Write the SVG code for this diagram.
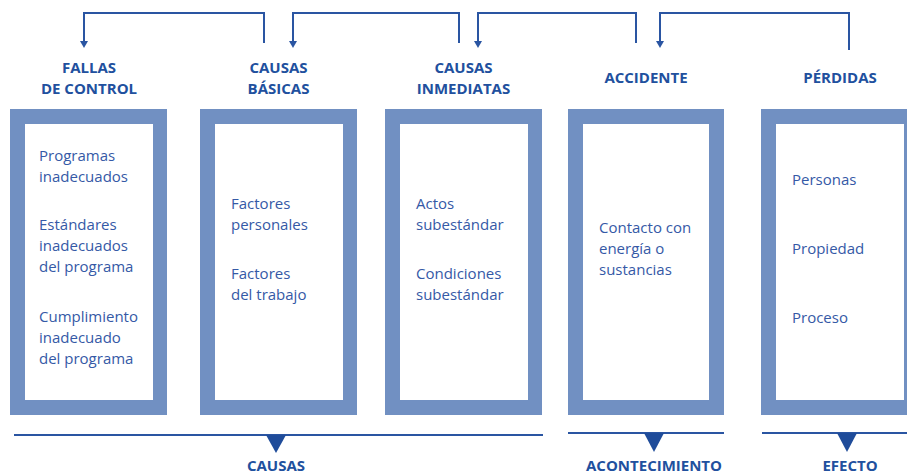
<svg xmlns="http://www.w3.org/2000/svg" width="907" height="475" viewBox="0 0 907 475">
<style>
.frame{fill:#7190c2}
.inner{fill:#ffffff}
.title{font-family:"Open Sans","Liberation Sans",sans-serif;font-weight:700;font-size:15px;fill:#21509e;text-anchor:middle}
.body{font-family:"Open Sans","Liberation Sans",sans-serif;font-size:15px;fill:#3559a6}
.conn{fill:none;stroke:#2a55a2;stroke-width:2}
.base{fill:none;stroke:#2a55a2;stroke-width:2}
.tri{fill:#1f4c9a}
</style>
<defs>
<marker id="ah" markerWidth="8" markerHeight="7" refX="4" refY="6" orient="auto-start-reverse" markerUnits="userSpaceOnUse" viewBox="0 0 8 7">
<path d="M0,0 L8,0 L4,7 Z" fill="#2a55a2" transform="rotate(0)"/>
</marker>
</defs>
<rect width="907" height="475" fill="#ffffff"/>

<g id="connectors">
<path class="conn" d="M264,43 V13 H84 V42"/>
<path d="M80,41 L88,41 L84,48 Z" fill="#2a55a2"/>
<path class="conn" d="M459,43 V13 H293 V42"/>
<path d="M289,41 L297,41 L293,48 Z" fill="#2a55a2"/>
<path class="conn" d="M636,43 V13 H478 V42"/>
<path d="M474,41 L482,41 L478,48 Z" fill="#2a55a2"/>
<path class="conn" d="M849,50 V13 H660 V42"/>
<path d="M656,41 L664,41 L660,48 Z" fill="#2a55a2"/>
</g>

<g id="node-fallas">
<rect class="frame" x="10" y="109" width="157" height="306"/>
<rect class="inner" x="25" y="124" width="128" height="276"/>
<text class="title" x="89" y="73">FALLAS</text>
<text class="title" x="89" y="94">DE CONTROL</text>
<text class="body" x="39" y="161">Programas</text>
<text class="body" x="39" y="182">inadecuados</text>
<text class="body" x="39" y="230">Estándares</text>
<text class="body" x="39" y="251">inadecuados</text>
<text class="body" x="39" y="272">del programa</text>
<text class="body" x="39" y="322">Cumplimiento</text>
<text class="body" x="39" y="343">inadecuado</text>
<text class="body" x="39" y="364">del programa</text>
</g>

<g id="node-basicas">
<rect class="frame" x="200" y="109" width="157" height="306"/>
<rect class="inner" x="215" y="124" width="128" height="276"/>
<text class="title" x="278.5" y="73">CAUSAS</text>
<text class="title" x="278.5" y="94">BÁSICAS</text>
<text class="body" x="231" y="209">Factores</text>
<text class="body" x="231" y="230">personales</text>
<text class="body" x="231" y="279">Factores</text>
<text class="body" x="231" y="300">del trabajo</text>
</g>

<g id="node-inmediatas">
<rect class="frame" x="385" y="109" width="157" height="306"/>
<rect class="inner" x="400" y="124" width="128" height="276"/>
<text class="title" x="463.5" y="73">CAUSAS</text>
<text class="title" x="463.5" y="94">INMEDIATAS</text>
<text class="body" x="416" y="209">Actos</text>
<text class="body" x="416" y="230">subestándar</text>
<text class="body" x="416" y="279">Condiciones</text>
<text class="body" x="416" y="300">subestándar</text>
</g>

<g id="node-accidente">
<rect class="frame" x="568" y="109" width="156" height="306"/>
<rect class="inner" x="583" y="124" width="126" height="276"/>
<text class="title" x="646" y="83">ACCIDENTE</text>
<text class="body" x="599" y="233">Contacto con</text>
<text class="body" x="599" y="254">energía o</text>
<text class="body" x="599" y="275">sustancias</text>
</g>

<g id="node-perdidas">
<rect class="frame" x="761" y="109" width="157" height="306"/>
<rect class="inner" x="776" y="124" width="128" height="276"/>
<text class="title" x="840" y="83">PÉRDIDAS</text>
<text class="body" x="792" y="185">Personas</text>
<text class="body" x="792" y="254">Propiedad</text>
<text class="body" x="792" y="323">Proceso</text>
</g>

<g id="group-causas">
<line class="base" x1="14" y1="435" x2="543" y2="435"/>
<path class="tri" d="M266,435 L286,435 L276,453 Z"/>
<text class="title" x="276" y="471">CAUSAS</text>
</g>

<g id="group-acontecimiento">
<line class="base" x1="568" y1="433" x2="724" y2="433"/>
<path class="tri" d="M644,433 L664,433 L654,452 Z"/>
<text class="title" x="654" y="471">ACONTECIMIENTO</text>
</g>

<g id="group-efecto">
<line class="base" x1="762" y1="433" x2="907" y2="433"/>
<path class="tri" d="M837,433 L857,433 L847,452 Z"/>
<text class="title" x="850" y="471">EFECTO</text>
</g>
</svg>
